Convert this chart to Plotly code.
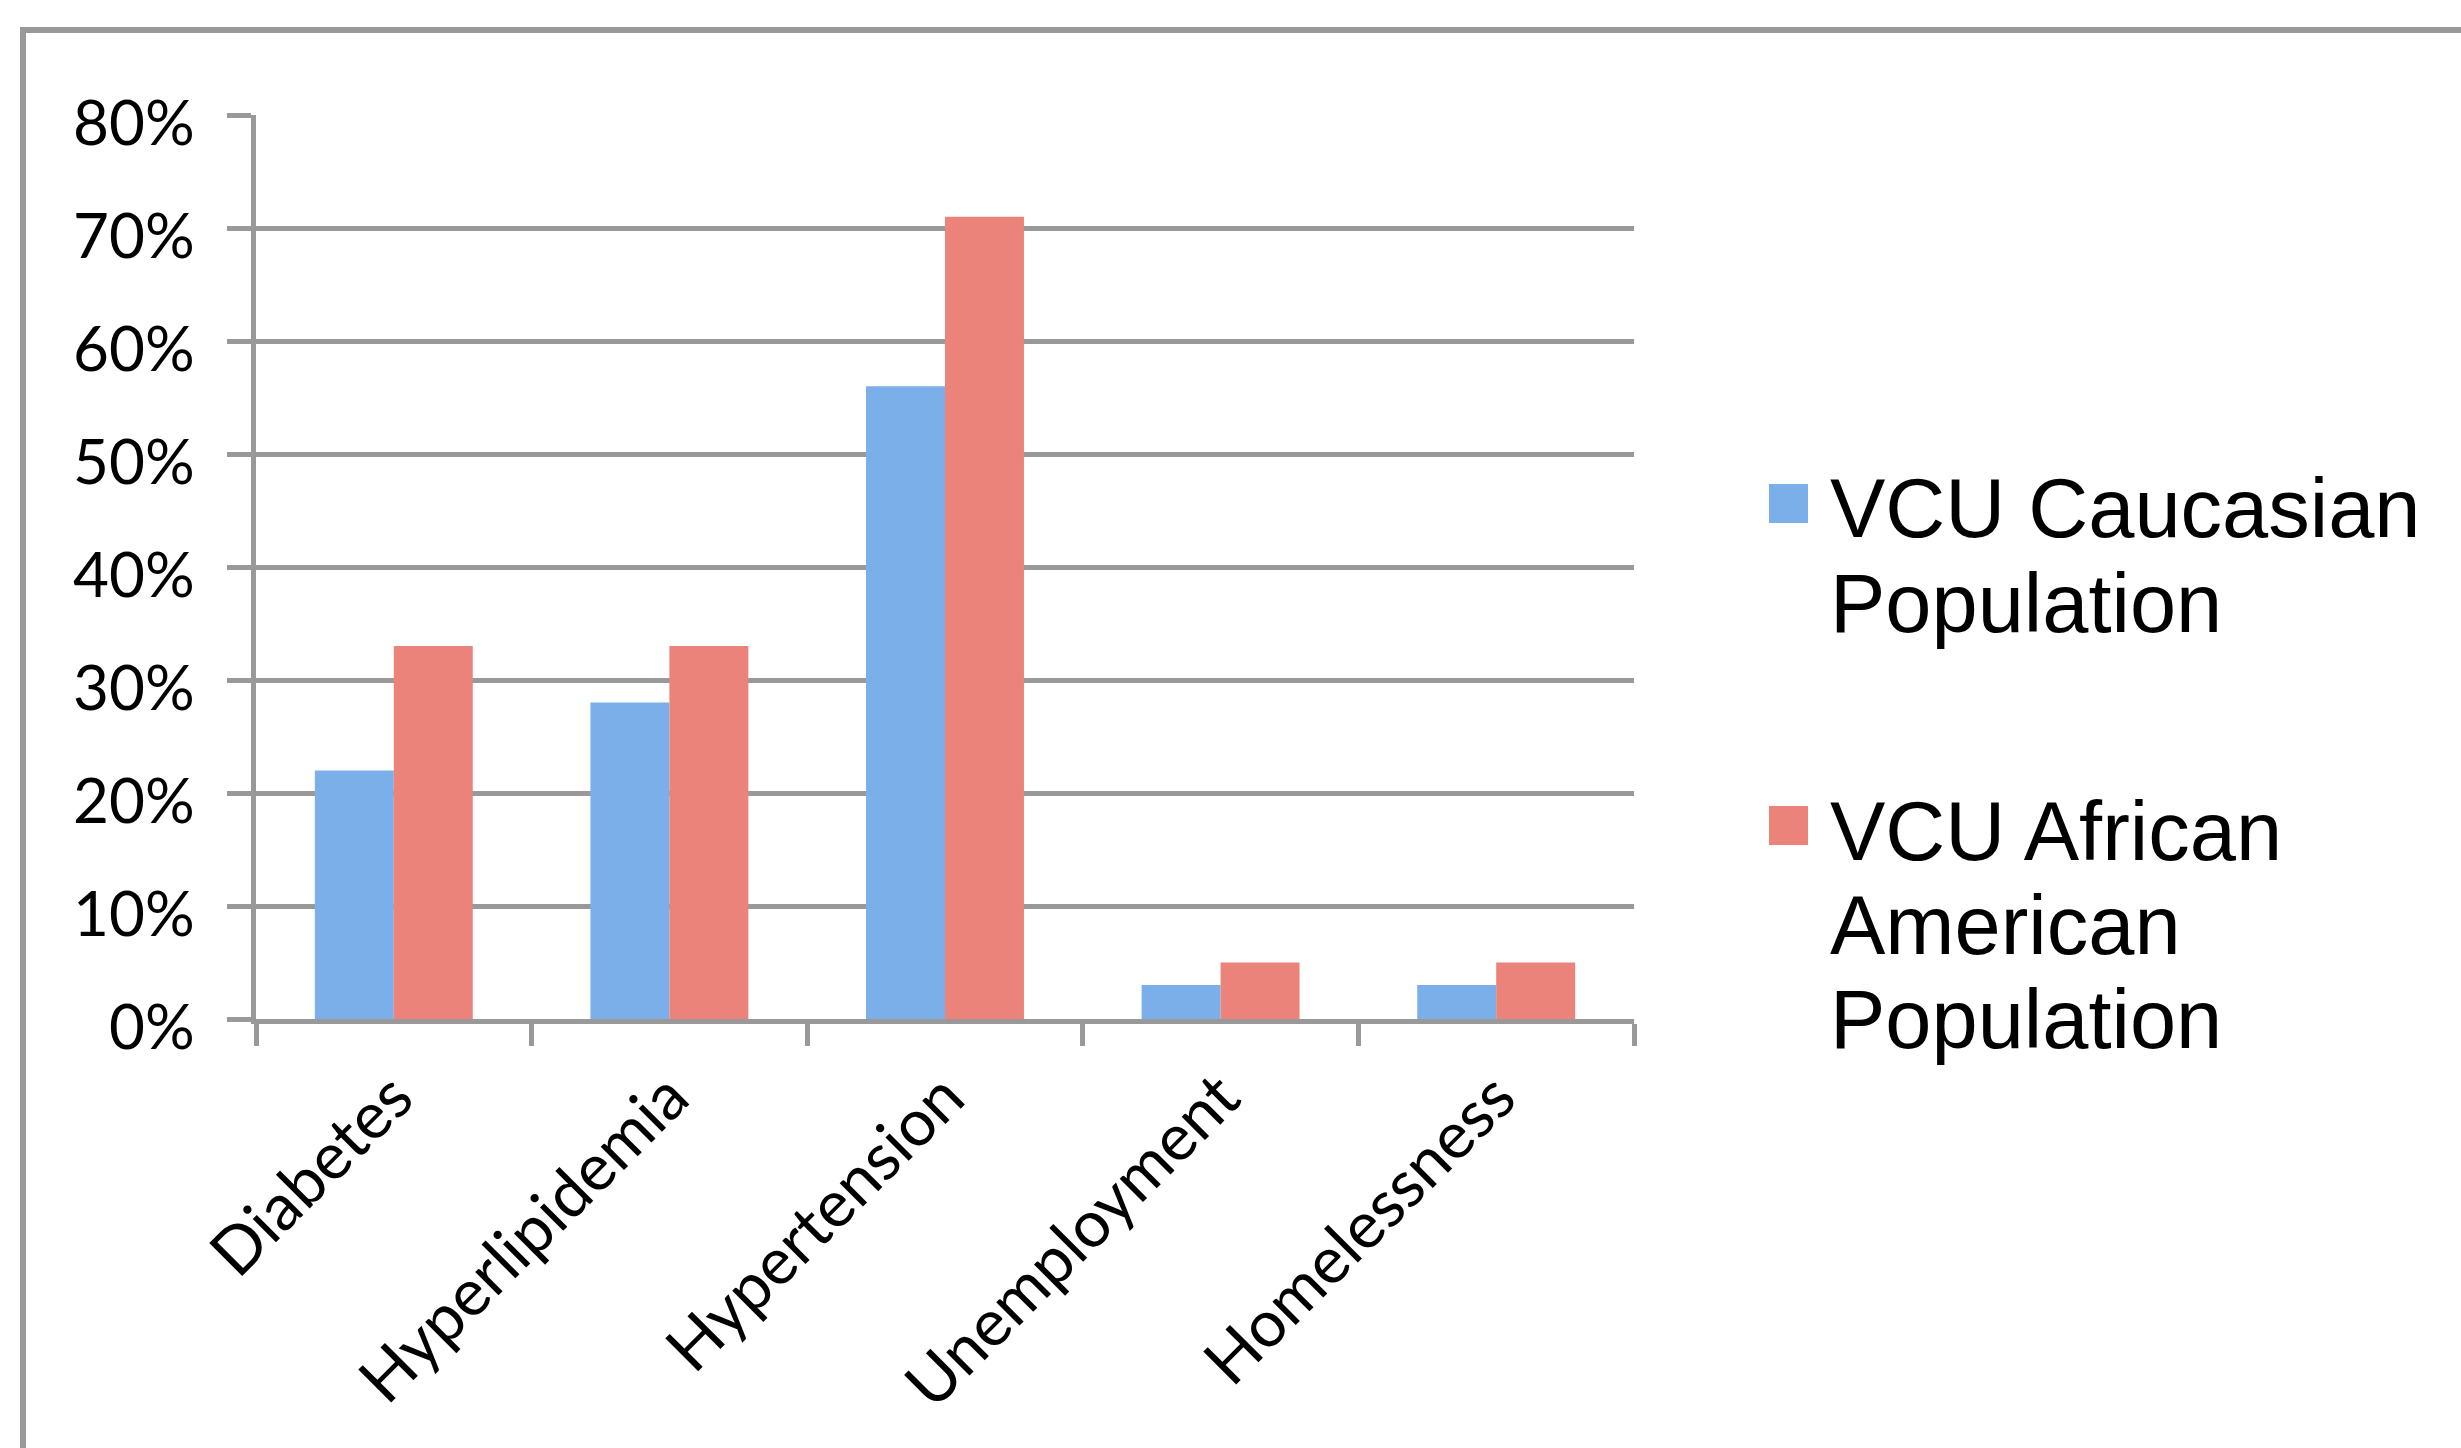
import plotly.graph_objects as go

categories = ["Diabetes", "Hyperlipidemia", "Hypertension", "Unemployment", "Homelessness"]
caucasian = [0.22, 0.28, 0.56, 0.03, 0.03]
african_american = [0.33, 0.33, 0.71, 0.05, 0.05]
series_names = ["VCU Caucasian Population", "VCU African American Population"]
legend_lines = [["VCU Caucasian", "Population"], ["VCU African", "American", "Population"]]
y_ticks = [0, 0.1, 0.2, 0.3, 0.4, 0.5, 0.6, 0.7, 0.8]
y_tick_labels = ["0%", "10%", "20%", "30%", "40%", "50%", "60%", "70%", "80%"]
colors = ["#7AAFEA", "#EC837B"]

GRAY = "#999999"
W, H = 2461, 1448
L, R, T, B = 256, 827, 115, 429
PW, PH = W - L - R, H - T - B


def px_x(x):
    return (x - L) / PW


def px_y(y):
    return (H - B - y) / PH


fig = go.Figure()
fig.add_trace(go.Bar(x=categories, y=caucasian, name=series_names[0],
                     marker=dict(color=colors[0], line=dict(width=0))))
fig.add_trace(go.Bar(x=categories, y=african_american, name=series_names[1],
                     marker=dict(color=colors[1], line=dict(width=0))))

# legend drawn as swatches + text lines
shapes = [dict(type="rect", xref="paper", yref="paper",
               x0=px_x(23), x1=px_x(2480), y0=px_y(1470), y1=px_y(30),
               line=dict(color=GRAY, width=6), fillcolor="rgba(0,0,0,0)", layer="below")]
annotations = []
entry_tops = [505, 827]
line_step = 94
for i, lines in enumerate(legend_lines):
    cy = entry_tops[i]
    shapes.append(dict(type="rect", xref="paper", yref="paper",
                       x0=px_x(1769), x1=px_x(1808), y0=px_y(cy + 18), y1=px_y(cy - 21),
                       line=dict(width=0), fillcolor=colors[i]))
    for j, txt in enumerate(lines):
        annotations.append(dict(xref="paper", yref="paper", x=px_x(1828), y=px_y(cy + 4 + j * line_step),
                                xanchor="left", yanchor="middle", showarrow=False, text=txt,
                                font=dict(family="Liberation Sans", size=83, color="black")))

fig.update_layout(
    width=W, height=H,
    margin=dict(l=L, r=R, t=T, b=B, autoexpand=False),
    paper_bgcolor="white", plot_bgcolor="white",
    barmode="group", bargap=0.427, bargroupgap=0,
    font=dict(family="Lato", size=62, color="black"),
    showlegend=False,
    xaxis=dict(
        showgrid=False, showline=True, linecolor=GRAY, linewidth=5,
        ticks="outside", tickson="boundaries", ticklen=22, tickwidth=5, tickcolor=GRAY,
        tickangle=-45, ticklabelstandoff=9,
        tickfont=dict(family="Lato", size=65, color="black"),
    ),
    yaxis=dict(
        range=[0, 0.8], tickvals=y_ticks, ticktext=y_tick_labels,
        showgrid=True, gridcolor=GRAY, gridwidth=5,
        showline=True, linecolor=GRAY, linewidth=5,
        ticks="outside", ticklen=24, tickwidth=5, tickcolor=GRAY,
        ticklabelstandoff=20, ticklabelshift=8, zeroline=False,
        tickfont=dict(family="Lato", size=62, color="black"),
    ),
    shapes=shapes,
    annotations=annotations,
)

fig.write_html("out.html")
